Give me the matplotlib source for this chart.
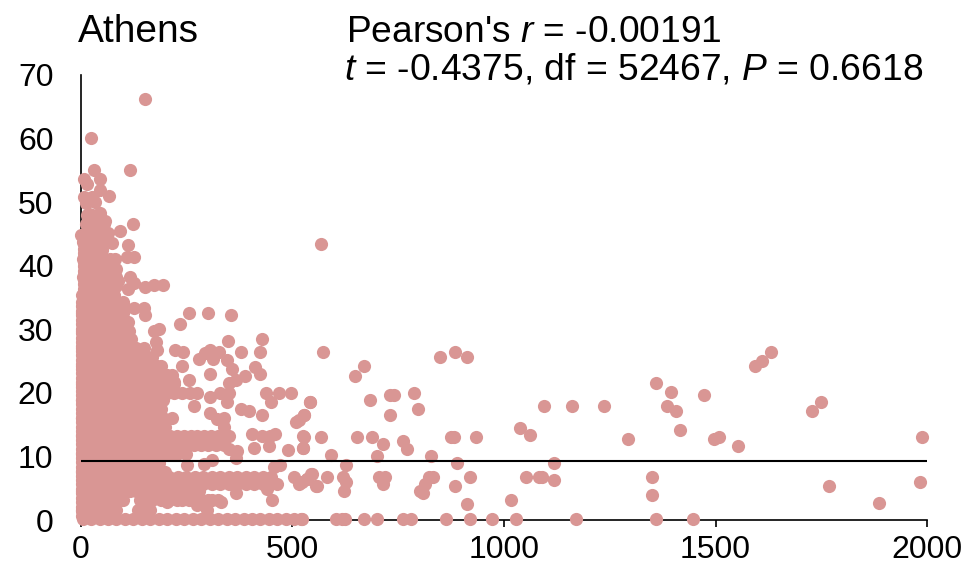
import matplotlib
matplotlib.use("Agg")
import matplotlib.pyplot as plt

plt.rcParams['font.family'] = ['Liberation Sans', 'DejaVu Sans']
plt.rcParams['mathtext.fontset'] = 'custom'
plt.rcParams['mathtext.it'] = 'Liberation Sans:italic'
plt.rcParams['mathtext.rm'] = 'Liberation Sans'

city = "Athens"
stat_line1 = r"Pearson's $\mathit{r}$ = -0.00191"
stat_line2 = r"$\mathit{t}$ = -0.4375, df = 52467, $\mathit{P}$ = 0.6618"
mean_value = 9.3
x_ticks = [0, 500, 1000, 1500, 2000]
y_ticks = [0, 10, 20, 30, 40, 50, 60, 70]

# points that can be told apart, right side of the plot
far_x = [567, 572, 669, 648, 848, 884, 914, 541, 527, 517, 684, 730, 741, 787, 797, 730, 1094, 1160, 1236,
         1037, 1062, 527, 567, 654, 689, 715, 761, 771, 526, 875, 881, 935, 592, 700, 828, 889, 1119, 628,
         545, 535, 523, 557, 582, 619, 628, 623, 706, 720, 714, 832, 822, 814, 801, 808, 884, 919, 1053,
         1083, 1091, 1119, 914, 1017, 522, 603, 618, 624, 669, 700, 761, 781, 863, 920, 971, 1028, 1170,
         1359, 1395, 1472, 1386, 1406, 1415, 1292, 1497, 1508, 1553, 1594, 1610, 1630, 1727, 1748, 1988,
         1349, 1349, 1767, 1983, 1885, 1359, 1446]
far_y = [43.4, 26.4, 24.3, 22.6, 25.7, 26.4, 25.7, 18.5, 16.5, 15.7, 18.9, 19.6, 19.6, 19.9, 17.5, 16.5, 17.9, 17.9, 17.9,
         14.5, 13.4, 13.0, 13.0, 13.0, 13.0, 12.0, 12.5, 11.1, 11.4, 13.0, 13.0, 13.0, 10.3, 10.0, 10.0, 9.0, 9.0, 8.7,
         7.3, 6.5, 6.0, 5.3, 6.7, 6.7, 6.0, 4.6, 6.7, 6.7, 5.6, 6.7, 6.7, 5.7, 4.6, 4.2, 5.3, 6.7, 6.7,
         6.7, 6.7, 6.3, 2.5, 3.2, 0.15, 0.15, 0.15, 0.15, 0.15, 0.15, 0.15, 0.15, 0.15, 0.15, 0.15, 0.15, 0.15,
         21.6, 20.2, 19.6, 17.9, 17.2, 14.1, 12.7, 12.7, 13.0, 11.7, 24.3, 25.0, 26.4, 17.2, 18.6, 13.1,
         6.7, 3.9, 5.3, 5.9, 2.6, 0.1, 0.1]

# top of the cloud
top_x = [153, 25, 31, 117, 9, 46, 16, 46, 67, 8, 28, 12, 35, 47, 20, 59, 123, 93, 2, 75, 112, 127, 110, 81,
         83, 116, 127, 88, 195, 173, 153, 112, 101, 150, 127]
top_y = [66.2, 60.1, 55.0, 55.0, 53.7, 53.6, 52.8, 51.9, 50.9, 50.8, 50.8, 49.8, 50.0, 48.3, 48.2, 47.1, 46.5, 45.5,
         44.8, 43.5, 43.2, 41.4, 41.4, 41.0, 39.5, 38.3, 37.3, 37.6, 36.9, 36.9, 36.6, 36.3, 34.3, 33.3, 33.3]

# middle, edge of the cloud
mid_x = [256, 300, 356, 235, 153, 185, 173, 179, 181, 348, 429, 378, 423, 224, 242, 279, 295, 307, 328, 312,
         346, 358, 240, 413, 423, 388, 307, 256, 368, 350, 220, 439, 470, 496, 449, 541, 275, 307, 330, 350,
         346, 268, 378, 397, 429, 307, 323, 338, 338, 527, 508, 405, 429, 447, 460, 409, 445, 526, 526, 490,
         350, 370, 368, 350, 311, 291, 252, 472, 457, 504, 547, 515, 535, 558, 368, 464, 441, 452, 332, 311,
         275, 299, 256, 228, 205]
mid_y = [32.5, 32.5, 32.2, 30.8, 32.2, 30.1, 29.7, 28.0, 26.7, 28.1, 28.4, 26.4, 26.4, 26.7, 26.4, 25.4, 26.2, 26.7, 26.4, 25.4,
         25.1, 23.7, 24.3, 24.1, 23.0, 22.6, 23.0, 22.0, 22.0, 21.6, 21.7, 19.9, 19.9, 19.9, 18.5, 18.6, 19.9, 19.4, 19.9, 19.9,
         18.6, 17.9, 17.5, 17.2, 16.5, 16.8, 15.9, 16.1, 14.7, 16.5, 15.4, 13.5, 13.2, 13.2, 13.5, 11.4, 11.6, 13.2, 11.4, 11.0,
         11.1, 10.9, 9.7, 13.2, 9.5, 8.8, 8.6, 8.7, 8.3, 6.8, 7.3, 5.7, 6.5, 5.4, 4.3, 5.7, 4.9, 3.2, 2.8, 3.2,
         2.3, 1.5, 3.1, 3.1, 2.8]

# low values hugging the y axis
edge_low_y = [0.7, 1.4, 2.1, 2.8, 3.5, 4.2, 4.9, 5.6, 6.3, 7.0, 7.7, 8.4, 9.1, 9.8, 10.5, 11.2, 11.9, 12.6, 13.3, 14.0,
              14.7, 15.4, 16.1, 16.8, 17.5, 18.2, 18.9, 19.6, 20.3, 21.0, 21.7, 22.4, 23.1, 23.8, 24.5, 25.2, 25.9,
              26.6, 27.3, 28.0, 28.7, 29.4, 30.1, 30.8, 31.5, 32.2, 32.9, 33.6, 34.3]
edge_high_y = [35.0, 35.7, 36.4, 37.1, 37.8, 38.5, 39.2, 39.9, 40.6, 41.3, 42.0, 42.7, 43.4, 44.1]

# solid part of the cloud, listed row by row
row_y = [0.2, 1.6, 3.1, 4.6, 5.6, 6.8, 7.6, 9.0, 10.4, 11.8, 13.2, 14.6, 16.0, 17.4, 18.8, 20.0, 21.4, 22.8, 24.2,
         25.6, 27.0, 28.4, 29.8, 31.2, 32.6, 34.0, 35.4, 36.8, 38.2, 39.6, 41.0, 42.4, 43.8, 45.2, 46.6, 48.0]
row_x = [
    [5, 25, 45, 65, 85, 105, 125, 145, 165, 185, 205, 225, 245, 265, 285, 305, 325, 345, 365, 385, 405, 425, 445, 465, 485, 505, 520],
    [4, 20, 36, 52, 68, 84, 135, 150, 165],
    [12, 28, 44, 60, 76, 92, 100, 140, 155, 170, 190, 210, 240, 270, 285, 300, 325],
    [4, 20, 36, 52, 68, 84, 100, 116, 132, 148, 164, 180, 200, 220, 240, 260, 280],
    [12, 28, 44, 60, 76, 92, 108, 124, 140, 156, 172, 190, 210, 230, 250, 270, 290, 310, 330, 350, 370, 390, 410, 430, 445],
    [10, 30, 50, 70, 90, 110, 130, 150, 170, 190, 210, 230, 250, 270, 290, 310, 330, 350, 370, 390, 410, 430, 450],
    [4, 20, 36, 52, 68, 84, 100, 116, 132, 148, 164, 180, 200],
    [12, 28, 44, 60, 76, 92, 108, 124, 140, 156, 172, 185],
    [4, 20, 36, 52, 68, 84, 100, 116, 132, 148, 164, 180, 196, 212, 228, 250],
    [12, 28, 44, 60, 76, 92, 108, 124, 140, 156, 172, 188, 204, 220, 236, 252, 268, 284, 300, 320, 340],
    [4, 20, 36, 52, 68, 84, 100, 116, 132, 148, 164, 180, 196, 212, 228, 244, 260, 276, 292, 308, 324, 340],
    [12, 28, 44, 60, 76, 92, 108, 124, 140, 156, 172, 188, 200],
    [4, 20, 36, 52, 68, 84, 100, 116, 132, 148, 164, 180, 196, 215],
    [12, 28, 44, 60, 76, 92, 108, 124, 140, 156, 172, 190],
    [4, 20, 36, 52, 68, 84, 100, 116, 132, 148, 164, 180, 195],
    [12, 28, 44, 60, 76, 92, 108, 124, 140, 156, 172, 188, 204, 220, 240, 258],
    [4, 20, 36, 52, 68, 84, 100, 116, 132, 148, 164, 180, 196, 220],
    [12, 28, 44, 60, 76, 92, 108, 124, 140, 156, 172, 188, 204, 215],
    [4, 20, 36, 52, 68, 84, 100, 116, 132, 148, 164, 180, 190],
    [12, 28, 44, 60, 76, 92, 108, 124, 140, 156, 170],
    [4, 20, 36, 52, 68, 84, 100, 116, 132, 150],
    [12, 28, 44, 60, 76, 92, 108, 120],
    [4, 20, 36, 52, 68, 84, 100, 115],
    [12, 28, 44, 60, 76, 92, 112],
    [4, 20, 36, 52, 68, 84, 100],
    [12, 28, 44, 60, 76, 92, 100],
    [4, 20, 36, 52, 68, 80],
    [12, 28, 44, 60, 76, 85],
    [6, 20, 36, 52, 68, 85],
    [12, 28, 44, 60, 75],
    [6, 20, 36, 52, 70],
    [12, 28, 44, 50],
    [6, 20, 36, 52, 60],
    [12, 28, 44, 60, 65],
    [12, 24, 40, 55],
    [15, 28, 40],
]

point_color = '#D99694'
size_pts = 90

fig = plt.figure(figsize=(9.66, 5.71), dpi=100)
ax = fig.add_axes([80.5 / 966, 1 - 520 / 571, 846.8 / 966, 445 / 571])

solid_x = []
solid_y = []
for y, xs in zip(row_y, row_x):
    solid_x += xs
    solid_y += [y] * len(xs)

all_x = solid_x + top_x + mid_x + far_x + [4] * len(edge_low_y) + [8] * len(edge_high_y)
all_y = solid_y + top_y + mid_y + far_y + edge_low_y + edge_high_y
ax.scatter(all_x, all_y, s=size_pts, c=point_color, linewidths=0, clip_on=False, zorder=3)
ax.plot([0, 2000], [mean_value, mean_value], color='black', lw=1.5, zorder=4)

ax.set_xlim(0, 2000)
ax.set_ylim(0, 70)
ax.set_xticks(x_ticks)
ax.set_yticks(y_ticks)
ax.tick_params(axis='x', length=5, width=1.2, labelsize=23, pad=6)
ax.tick_params(axis='y', length=0, labelsize=23, pad=19.5)
ax.spines['top'].set_visible(False)
ax.spines['right'].set_visible(False)
ax.spines['left'].set_linewidth(1.2)
ax.spines['bottom'].set_linewidth(1.2)

fig.text(78 / 966, 1 - 42.5 / 571, city, fontsize=28, ha='left', va='baseline')
fig.text(346.5 / 966, 1 - 42.3 / 571, stat_line1, fontsize=26.7, ha='left', va='baseline')
fig.text(344 / 966, 1 - 80 / 571, stat_line2, fontsize=26.85, ha='left', va='baseline')

fig.savefig('out.png', dpi=100)
